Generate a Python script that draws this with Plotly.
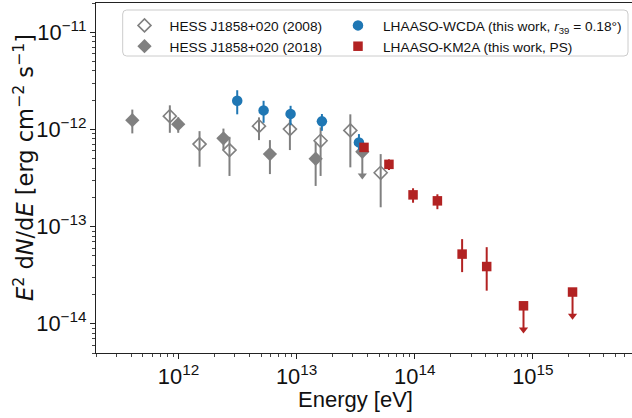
import numpy as np
import plotly.graph_objects as go

# ---------------- data ----------------
# HESS J1858+020 (2008) - open diamonds
hess08_E = [8.44e11, 1.506e12, 2.70e12, 4.80e12, 8.77e12, 1.596e13, 2.85e13, 5.15e13]
hess08_F = [1.37e-12, 7.06e-13, 6.13e-13, 1.08e-12, 1.007e-12, 7.64e-13, 9.77e-13, 3.58e-13]
hess08_hi = [1.77e-12, 9.6e-13, 8.39e-13, 1.33e-12, 1.27e-12, 1.05e-12, 1.43e-12, 5.57e-13]
hess08_lo = [9.23e-13, 4.13e-13, 3.32e-13, 7.76e-13, 6.13e-13, 3.32e-13, 4.07e-13, 1.58e-13]

# HESS J1858+020 (2018) - filled diamonds
hess18_E = [4.06e11, 9.94e11, 2.40e12, 5.94e12, 1.449e13]
hess18_F = [1.246e-12, 1.133e-12, 8.09e-13, 5.58e-13, 4.99e-13]
hess18_hi = [1.60e-12, 1.33e-12, 1.02e-12, 7.76e-13, 7.46e-13]
hess18_lo = [9.1e-13, 9.23e-13, 6.13e-13, 3.47e-13, 2.62e-13]
hess18_ul_E = [3.60e13]
hess18_ul_F = [5.89e-13]

# LHAASO-WCDA
wcda_E = [3.14e12, 5.25e12, 8.89e12, 1.637e13, 3.37e13]
wcda_F = [1.97e-12, 1.57e-12, 1.445e-12, 1.21e-12, 7.35e-13]
wcda_hi = [2.53e-12, 1.97e-12, 1.75e-12, 1.44e-12, 8.95e-13]
wcda_lo = [1.43e-12, 1.17e-12, 1.107e-12, 9.68e-13, 6.13e-13]

# LHAASO-KM2A
km2a_E = [3.72e13, 6.05e13, 9.68e13, 1.556e14, 2.52e14, 4.07e14]
km2a_F = [6.53e-13, 4.37e-13, 2.12e-13, 1.84e-13, 5.21e-14, 3.88e-14]
km2a_hi = [7.1e-13, 4.92e-13, 2.48e-13, 2.15e-13, 7.43e-14, 6.14e-14]
km2a_lo = [6.0e-13, 3.82e-13, 1.76e-13, 1.51e-13, 3.40e-14, 2.19e-14]
km2a_ul_E = [8.34e14, 2.17e15]
km2a_ul_F = [1.53e-14, 2.12e-14]

ul_arrow_factor = 0.57  # arrow head sits at this fraction of the limit

GRAY = "#808080"
BLUE = "#1f77b4"
RED = "#b22222"
FONT = "Liberation Sans, Arial, sans-serif"

# figure geometry (pixels)
W, H = 632, 418
ML, MR, MT, MB = 96, 0, 3, 65
PW, PH = W - ML - MR, H - MT - MB


def px2paper_x(px):
    return (px - ML) / PW


def px2paper_y(py):
    return 1 - (py - MT) / PH


def errs(F, hi, lo):
    F = np.array(F); hi = np.array(hi); lo = np.array(lo)
    return (hi - F).tolist(), (F - lo).tolist()


fig = go.Figure()

# HESS 2008
p, m = errs(hess08_F, hess08_hi, hess08_lo)
fig.add_trace(go.Scatter(
    x=hess08_E, y=hess08_F, mode="markers", name="HESS J1858+020 (2008)",
    legend="legend",
    marker=dict(symbol="diamond-open", size=10, color=GRAY, line=dict(width=1.6, color=GRAY)),
    error_y=dict(type="data", array=p, arrayminus=m, color=GRAY, thickness=2, width=0),
))

# HESS 2018
p, m = errs(hess18_F, hess18_hi, hess18_lo)
fig.add_trace(go.Scatter(
    x=hess18_E, y=hess18_F, mode="markers", name="HESS J1858+020 (2018)",
    legend="legend",
    marker=dict(symbol="diamond", size=11, color=GRAY),
    error_y=dict(type="data", array=p, arrayminus=m, color=GRAY, thickness=2, width=0),
))
ul18 = np.array(hess18_ul_F)
fig.add_trace(go.Scatter(
    x=hess18_ul_E, y=hess18_ul_F, mode="markers", showlegend=False,
    marker=dict(symbol="diamond", size=11, color=GRAY),
    error_y=dict(type="data", array=[0] * len(ul18), arrayminus=(ul18 * (1 - ul_arrow_factor)).tolist(),
                 color=GRAY, thickness=2, width=0),
))
fig.add_trace(go.Scatter(
    x=hess18_ul_E, y=(ul18 * ul_arrow_factor).tolist(), mode="markers", showlegend=False,
    marker=dict(symbol="triangle-down", size=8, color=GRAY),
))

# WCDA
p, m = errs(wcda_F, wcda_hi, wcda_lo)
fig.add_trace(go.Scatter(
    x=wcda_E, y=wcda_F, mode="markers",
    name="LHAASO-WCDA (this work, <i>r</i><sub>39</sub> = 0.18°)",
    legend="legend2",
    marker=dict(symbol="circle", size=10.5, color=BLUE),
    error_y=dict(type="data", array=p, arrayminus=m, color=BLUE, thickness=2, width=0),
))

# KM2A
p, m = errs(km2a_F, km2a_hi, km2a_lo)
fig.add_trace(go.Scatter(
    x=km2a_E, y=km2a_F, mode="markers", name="LHAASO-KM2A (this work, PS)",
    legend="legend2",
    marker=dict(symbol="square", size=9.5, color=RED),
    error_y=dict(type="data", array=p, arrayminus=m, color=RED, thickness=2, width=0),
))
ulk = np.array(km2a_ul_F)
fig.add_trace(go.Scatter(
    x=km2a_ul_E, y=km2a_ul_F, mode="markers", showlegend=False,
    marker=dict(symbol="square", size=9.5, color=RED),
    error_y=dict(type="data", array=[0] * len(ulk), arrayminus=(ulk * (1 - ul_arrow_factor)).tolist(),
                 color=RED, thickness=2, width=0),
))
fig.add_trace(go.Scatter(
    x=km2a_ul_E, y=(ulk * ul_arrow_factor).tolist(), mode="markers", showlegend=False,
    marker=dict(symbol="triangle-down", size=8, color=RED),
))

axis_common = dict(
    type="log", showgrid=False, zeroline=False,
    showline=True, linecolor="#222", linewidth=1,
    ticks="outside", ticklen=5, tickwidth=1, tickcolor="#222",
    exponentformat="power", dtick=1,
    tickfont=dict(family=FONT, size=17.5, color="#111"),
    minor=dict(ticks="outside", ticklen=3, tickwidth=1, tickcolor="#444", dtick="D1"),
)

leg_common = dict(
    orientation="v", xanchor="left", yanchor="top",
    font=dict(family=FONT, size=13.7, color="#111"),
    bgcolor="rgba(0,0,0,0)", borderwidth=0, itemwidth=40,
    traceorder="normal", tracegroupgap=0,
)

# rounded legend frame
bx0, bx1 = px2paper_x(122.7), px2paper_x(628)
byt, byb = px2paper_y(10), px2paper_y(56)
rx, ry = 4 / PW, 4 / PH
frame = (f"M {bx0+rx},{byt} L {bx1-rx},{byt} Q {bx1},{byt} {bx1},{byt-ry} "
         f"L {bx1},{byb+ry} Q {bx1},{byb} {bx1-rx},{byb} L {bx0+rx},{byb} "
         f"Q {bx0},{byb} {bx0},{byb+ry} L {bx0},{byt-ry} Q {bx0},{byt} {bx0+rx},{byt} Z")

fig.update_layout(
    width=W, height=H,
    margin=dict(l=ML, r=MR, t=MT, b=MB),
    paper_bgcolor="white", plot_bgcolor="white",
    font=dict(family=FONT, color="#111"),
    xaxis=dict(axis_common, mirror=True, range=[np.log10(2e11), 15.84]),
    yaxis=dict(axis_common, mirror=False, range=[np.log10(5e-15), np.log10(2e-11)]),
    showlegend=True,
    legend=dict(leg_common, x=px2paper_x(119.5), y=px2paper_y(10)),
    legend2=dict(leg_common, x=px2paper_x(333), y=px2paper_y(10)),
    shapes=[dict(type="path", path=frame, xref="paper", yref="paper", layer="above",
                 fillcolor="rgba(255,255,255,0.8)", line=dict(color="#cccccc", width=1))],
    annotations=[
        dict(text="Energy [eV]", xref="paper", yref="paper", x=px2paper_x(355.5), y=px2paper_y(399),
             showarrow=False, xanchor="center", yanchor="middle",
             font=dict(family=FONT, size=22, color="#111")),
        dict(text="<i>E</i><sup>2</sup> d<i>N</i>/d<i>E</i> [erg cm<sup>−2</sup> s<sup>−1</sup>]",
             xref="paper", yref="paper", x=px2paper_x(23), y=px2paper_y(168),
             showarrow=False, xanchor="center", yanchor="middle", textangle=-90,
             font=dict(family="DejaVu Sans, sans-serif", size=22.5, color="#111")),
    ],
)

fig.write_html("out.html")
